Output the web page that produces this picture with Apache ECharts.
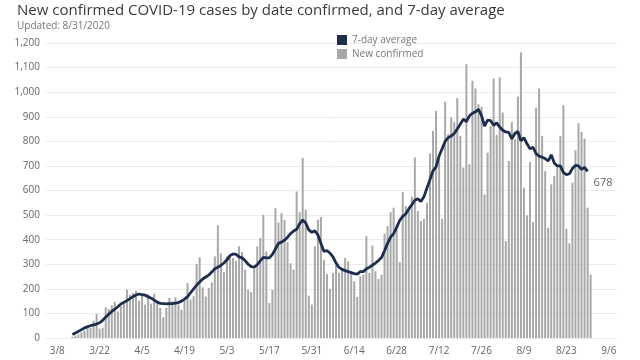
<!DOCTYPE html>
<html><head><meta charset="utf-8">
<script src="https://cdn.jsdelivr.net/npm/echarts@6/dist/echarts.min.js"></script>
<style>html,body{margin:0;padding:0;background:#fff}#c{width:640px;height:360px}</style>
</head><body><div id="c"></div>
<script>
const axisStart = '2020-03-08';
const firstDate = '2020-03-13';
const tickLabels = ['3/8','3/22','4/5','4/19','5/3','5/17','5/31','6/14','6/28','7/12','7/26','8/9','8/23','9/6'];
const newConfirmed = [
  5,10,15,22,30,45,40,70,98,38,
  42,125,118,133,147,108,129,140,197,176,
  183,192,152,176,136,179,140,180,150,122,
  84,122,163,149,166,136,115,152,224,156,
  170,301,328,206,169,203,226,332,458,344,
  268,332,341,325,314,373,350,278,196,187,
  282,373,407,501,352,142,196,528,470,508,
  481,390,304,278,596,512,732,522,172,136,
  373,481,492,318,260,200,264,298,265,278,
  326,312,268,231,167,251,258,414,265,376,
  272,240,258,425,455,512,530,442,308,594,
  537,523,575,734,516,476,485,550,751,842,
  924,727,485,961,829,897,879,976,822,693,
  1114,707,1046,1015,951,940,584,754,863,1056,
  826,1060,917,394,720,879,808,982,1162,611,
  499,716,471,937,1015,822,679,448,625,659,
  700,822,947,444,385,632,764,874,838,811,
  530,258
];
const sevenDayAvg = [
  14,20,27,34,41,46,50,53,57,62,
  72,85,97,108,117,127,138,145,152,160,
  168,175,179,176,174,168,162,154,146,141,
  140,139,140,140,142,144,150,158,168,184,
  200,215,228,240,248,256,268,282,288,295,
  305,318,335,342,340,330,326,315,300,290,
  288,298,314,328,326,326,340,362,385,390,
  398,410,425,435,442,465,480,468,440,430,
  436,420,385,352,356,345,330,305,287,279,
  274,270,266,262,260,270,270,282,288,296,
  305,315,327,355,385,410,425,450,478,495,
  505,525,542,560,566,555,575,610,645,680,
  696,740,770,800,815,822,832,850,870,890,
  880,904,914,920,930,905,862,886,884,865,
  875,858,845,838,836,810,832,840,802,815,
  790,770,776,750,740,735,730,720,745,712,
  700,700,674,664,668,690,702,700,686,694,
  678
];

const DAY = 86400000;
const offset = Math.round((Date.parse(firstDate) - Date.parse(axisStart)) / DAY);
const barData = newConfirmed.map((v, i) => [offset + i, v]);
const lineData = sevenDayAvg.map((v, i) => [offset + i, v]);
const tickPos = tickLabels.map((_, i) => i * 14);
const labelMap = {};
tickPos.forEach((p, i) => { labelMap[p] = tickLabels[i]; });

const FONT = "'Open Sans', 'Noto Sans', sans-serif";
const chart = echarts.init(document.getElementById('c'), null, {renderer: 'canvas'});
chart.setOption({
  animation: false,
  textStyle: {fontFamily: FONT},
  title: {
    text: 'New confirmed COVID-19 cases by date confirmed, and 7-day average',
    subtext: 'Updated: 8/31/2020',
    left: 12, top: 0, padding: [3, 5, 0, 5], itemGap: 3,
    textStyle: {fontSize: 15, fontWeight: 'normal', color: '#3a3a3a', fontFamily: FONT},
    subtextStyle: {fontSize: 10, color: '#777', fontFamily: FONT}
  },
  legend: {
    data: ['7-day average', 'New confirmed'],
    orient: 'vertical', left: 332, top: 30,
    icon: 'rect', itemWidth: 10, itemHeight: 10, itemGap: 4,
    textStyle: {fontSize: 10, color: '#777', fontFamily: FONT}
  },
  grid: {left: 46, right: 23, top: 43, bottom: 22, containLabel: false},
  xAxis: {
    type: 'value', min: -3.7, max: 184.7,
    axisLine: {show: false}, axisTick: {show: false}, splitLine: {show: false},
    axisLabel: {customValues: tickPos, formatter: v => labelMap[v] || '', color: '#666', fontSize: 10, margin: 8, fontFamily: FONT}
  },
  yAxis: {
    type: 'value', min: 0, max: 1200, interval: 100,
    axisLine: {show: false}, axisTick: {show: false},
    splitLine: {lineStyle: {color: '#ececec', width: 1}},
    axisLabel: {formatter: v => v.toLocaleString('en-US'), color: '#666', fontSize: 10, margin: 6, fontFamily: FONT}
  },
  series: [
    {
      name: 'New confirmed', type: 'bar', data: barData, barWidth: 2,
      itemStyle: {color: '#a8a8a8'}
    },
    {
      name: '7-day average', type: 'line', data: lineData, symbol: 'none',
      lineStyle: {color: '#1f2d4d', width: 2.8}, itemStyle: {color: '#1f2d4d'},
      endLabel: {show: true, formatter: p => String(p.value[1]), color: '#666', fontSize: 11, offset: [-2, 12], fontFamily: FONT}
    }
  ]
});
</script></body></html>
